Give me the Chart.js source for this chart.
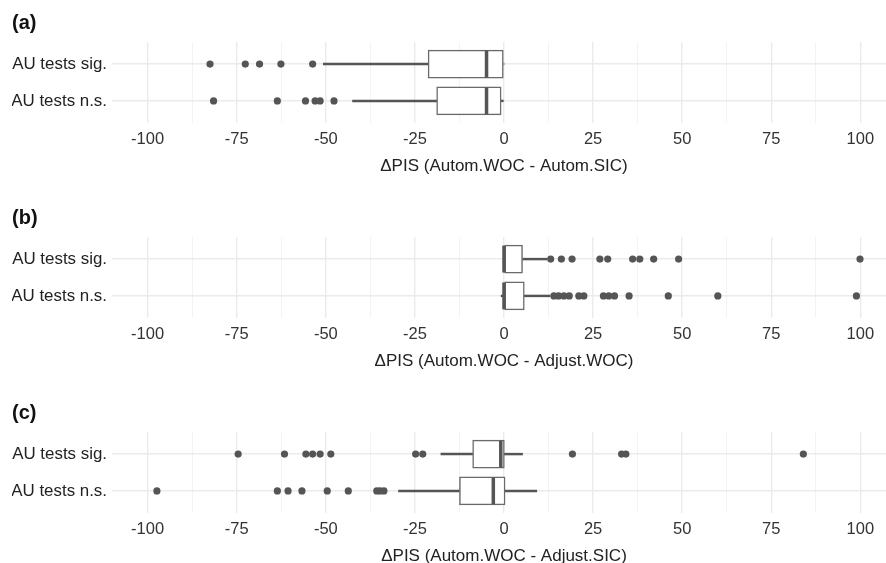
<!DOCTYPE html>
<html>
<head>
<meta charset="utf-8">
<script src="https://cdn.jsdelivr.net/npm/chart.js@4.4.1/dist/chart.umd.min.js"></script>
<style>
  html, body { margin: 0; padding: 0; background: #fff; overflow: hidden; width: 886px; height: 563px; }
  canvas { display: block; }
</style>
</head>
<body>
<canvas id="panel-a" width="900" height="195"></canvas>
<canvas id="panel-b" width="900" height="195"></canvas>
<canvas id="panel-c" width="900" height="195"></canvas>
<script>
// categories, top row first
const categories = ['AU tests sig.', 'AU tests n.s.'];
const xTickLabels = [-100, -75, -50, -25, 0, 25, 50, 75, 100];
const xGridValues = [-100, -87.5, -75, -62.5, -50, -37.5, -25, -12.5, 0, 12.5, 25, 37.5, 50, 62.5, 75, 87.5, 100];
const panelTags = ['(a)', '(b)', '(c)'];
const axisTitles = [
  'ΔPIS (Autom.WOC - Autom.SIC)',
  'ΔPIS (Autom.WOC - Adjust.WOC)',
  'ΔPIS (Autom.WOC - Adjust.SIC)'
];

// box stats per panel: [sig, n.s.]
const aLow = [-50.7, -42.5];
const aQ1 = [-21.3, -18.9];
const aMedian = [-4.9, -4.9];
const aQ3 = [0, -0.8];
const aHigh = [0, 0];
const aOutSig = [-82.5, -72.6, -68.6, -62.6, -53.7];
const aOutNs = [-81.5, -63.6, -55.7, -53.0, -51.6, -47.7];

const bLow = [0, -0.8];
const bQ1 = [0, 0];
const bMedian = [0, 0];
const bQ3 = [5.2, 5.7];
const bHigh = [12.0, 12.9];
const bOutSig = [13.1, 16.1, 19.1, 26.9, 29.1, 36.1, 38.1, 42.0, 49.0, 99.9];
const bOutNs = [14.0, 15.3, 16.8, 18.3, 21.0, 22.4, 27.9, 29.4, 31.0, 35.1, 46.1, 60.0, 98.9];

const cLow = [-17.7, -29.6];
const cQ1 = [-8.8, -12.5];
const cMedian = [-0.9, -3.0];
const cQ3 = [0.1, 0.3];
const cHigh = [5.2, 9.2];
const cOutSig = [-74.6, -61.6, -55.6, -53.7, -51.6, -48.6, -24.8, -22.8, 19.2, 33.0, 34.2, 84.0];
const cOutNs = [-97.4, -63.6, -60.6, -56.7, -49.6, -43.7, -35.7, -34.8, -33.7];

const FONT = "'Liberation Sans', Arial, sans-serif";
const DARK = '#555555';

// sig row sits at 2, n.s. row at 1 on the linear y scale
function rowPos(i) { return categories.length - i; }

function makePanel(id, tag, title, low, q1, med, q3, high, outSig, outNs) {
  const boxes = categories.map((c, i) => ({ y: rowPos(i), x: [q1[i], q3[i]] }));
  const whiskers = [];
  categories.forEach((c, i) => {
    whiskers.push({ y: rowPos(i), x: [low[i], q1[i]] });
    whiskers.push({ y: rowPos(i), x: [q3[i], high[i]] });
  });
  const outliers = outSig.map(v => ({ x: v, y: rowPos(0) }))
    .concat(outNs.map(v => ({ x: v, y: rowPos(1) })));

  const medianPlugin = {
    id: 'medians',
    afterDatasetsDraw(chart) {
      const { ctx, scales } = chart;
      ctx.save();
      ctx.strokeStyle = DARK;
      ctx.lineWidth = 3.5;
      med.forEach((m, i) => {
        const px = scales.x.getPixelForValue(m);
        const py = scales.y.getPixelForValue(rowPos(i));
        ctx.beginPath();
        ctx.moveTo(px, py - 13.5);
        ctx.lineTo(px, py + 13.5);
        ctx.stroke();
      });
      ctx.restore();
    }
  };

  new Chart(document.getElementById(id), {
    type: 'bar',
    data: {
      datasets: [
        {
          type: 'scatter',
          data: outliers,
          pointRadius: 3.6,
          pointBackgroundColor: DARK,
          pointBorderWidth: 0
        },
        {
          type: 'bar',
          data: boxes,
          backgroundColor: '#ffffff',
          borderColor: '#6a6a6a',
          borderWidth: 1.5,
          borderSkipped: false,
          barThickness: 28,
          grouped: false
        },
        {
          type: 'bar',
          data: whiskers,
          backgroundColor: DARK,
          borderWidth: 0,
          barThickness: 1.8,
          grouped: false
        }
      ]
    },
    options: {
      indexAxis: 'y',
      responsive: false,
      animation: false,
      layout: { padding: { left: 12, right: 4, top: 0, bottom: 0 } },
      plugins: {
        legend: { display: false },
        tooltip: { enabled: false },
        title: {
          display: true,
          text: tag,
          align: 'start',
          color: '#111',
          font: { family: FONT, size: 20, weight: 'bold' },
          padding: { top: 11.5, bottom: 6.5 }
        }
      },
      scales: {
        x: {
          type: 'linear',
          min: -110,
          max: 110,
          afterBuildTicks: s => { s.ticks = xGridValues.map(v => ({ value: v })); },
          ticks: {
            autoSkip: false,
            maxRotation: 0,
            padding: 6.2,
            color: '#333',
            font: { family: FONT, size: 16.5 },
            callback: v => xTickLabels.includes(v) ? String(v) : ''
          },
          grid: {
            drawTicks: false,
            color: c => xTickLabels.includes(c.tick.value) ? '#ebebeb' : '#f2f2f2',
            lineWidth: c => xTickLabels.includes(c.tick.value) ? 1.4 : 0.9
          },
          border: { display: false },
          title: {
            display: true,
            text: title,
            color: '#222',
            font: { family: FONT, size: 17 },
            padding: { top: 0.6, bottom: 18.8 }
          }
        },
        y: {
          type: 'linear',
          min: 0.4,
          max: 2.6,
          offset: false,
          afterBuildTicks: s => { s.ticks = categories.map((c, i) => ({ value: rowPos(i) })); },
          afterFit: s => { s.width = 100; },
          ticks: {
            padding: 5,
            color: '#222',
            font: { family: FONT, size: 16.9 },
            callback: v => categories[categories.length - v]
          },
          grid: { drawTicks: false, offset: false, color: '#ebebeb', lineWidth: 1.4 },
          border: { display: false }
        }
      }
    },
    plugins: [medianPlugin]
  });
}

makePanel('panel-a', panelTags[0], axisTitles[0], aLow, aQ1, aMedian, aQ3, aHigh, aOutSig, aOutNs);
makePanel('panel-b', panelTags[1], axisTitles[1], bLow, bQ1, bMedian, bQ3, bHigh, bOutSig, bOutNs);
makePanel('panel-c', panelTags[2], axisTitles[2], cLow, cQ1, cMedian, cQ3, cHigh, cOutSig, cOutNs);
</script>
</body>
</html>
